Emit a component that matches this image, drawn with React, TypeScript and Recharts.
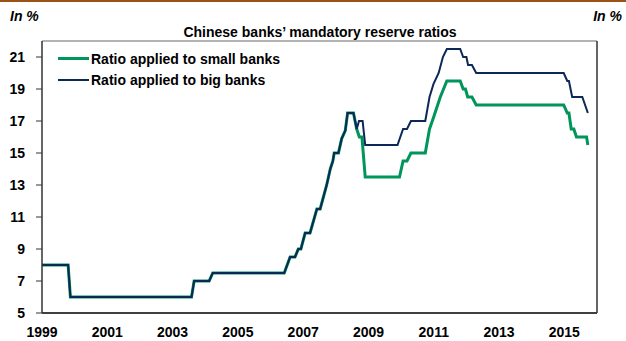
import { LineChart, Line, XAxis, YAxis, ReferenceLine } from "recharts";

// vertices shared by both ratios until the split in autumn 2008
const commonYears = [
  1999.0, 1999.8, 1999.87, 2003.58, 2003.66, 2004.12, 2004.23, 2006.42, 2006.6,
  2006.75, 2006.85, 2006.93, 2007.06, 2007.21, 2007.42, 2007.52, 2007.72, 2007.83,
  2007.91, 2007.95, 2008.08, 2008.18, 2008.29, 2008.36, 2008.54,
];
const commonRatios = [
  8, 8, 6, 6, 7, 7, 7.5, 7.5, 8.5, 8.5, 9, 9, 10, 10, 11.5, 11.5, 13, 14, 14.5, 15,
  15, 15.9, 16.4, 17.5, 17.5,
];

const smallYears = [
  2008.64, 2008.72, 2008.8, 2008.9, 2009.95, 2010.06, 2010.18, 2010.3, 2010.74,
  2010.87, 2010.99, 2011.2, 2011.4, 2011.81, 2011.9, 2011.97, 2012.04, 2012.17,
  2012.3, 2014.98, 2015.09, 2015.14, 2015.21, 2015.29, 2015.37, 2015.68, 2015.72,
];
const smallRatios = [
  16.5, 16, 16, 13.5, 13.5, 14.5, 14.5, 15, 15, 16.5, 17.2, 18.5, 19.5, 19.5, 19, 19,
  18.5, 18.5, 18, 18, 17.5, 17.5, 16.5, 16.5, 16, 16, 15.5,
];

const bigYears = [
  2008.64, 2008.71, 2008.82, 2008.9, 2009.89, 2010.06, 2010.18, 2010.3, 2010.74,
  2010.87, 2010.99, 2011.15, 2011.28, 2011.4, 2011.81, 2011.9, 2012.0, 2012.05,
  2012.17, 2012.3, 2014.98, 2015.09, 2015.14, 2015.24, 2015.55, 2015.72,
];
const bigRatios = [
  16.5, 17, 17, 15.5, 15.5, 16.5, 16.5, 17, 17, 18.5, 19.3, 20, 21, 21.5, 21.5, 21,
  21, 20.5, 20.5, 20, 20, 19.5, 19.5, 18.5, 18.5, 17.5,
];

const yearTicks = [1999, 2001, 2003, 2005, 2007, 2009, 2011, 2013, 2015];
const ratioTicks = [5, 7, 9, 11, 13, 15, 17, 19, 21];

const GREEN = "#00955a";
const NAVY = "#0c2857";
const FONT = "'Liberation Sans', Arial, sans-serif";

const toPoints = (years: number[], ratios: number[]) =>
  years.map((year, i) => ({ year, v: ratios[i] }));

const smallData = toPoints(commonYears.concat(smallYears), commonRatios.concat(smallRatios));
const bigData = toPoints(commonYears.concat(bigYears), commonRatios.concat(bigRatios));

const tickStyle = { fill: "#000", fontSize: 14, fontWeight: 700, fontFamily: FONT };

const legendRows = [
  { label: "Ratio applied to small banks", color: GREEN, width: 3 },
  { label: "Ratio applied to big banks", color: NAVY, width: 2 },
];

export default function App() {
  return (
    <div style={{ position: "absolute", left: 0, top: 0, width: 626, height: 341, background: "#fff", fontFamily: FONT }}>
      <div style={{ position: "absolute", left: 0, top: 0, width: 626, height: 2, background: "#9a5418" }} />
      <div style={{ position: "absolute", left: 10, top: 8, fontSize: 14, fontWeight: 700, fontStyle: "italic" }}>In %</div>
      <div style={{ position: "absolute", right: 4, top: 8, fontSize: 14, fontWeight: 700, fontStyle: "italic" }}>In %</div>
      <div style={{ position: "absolute", left: 0, width: 640, top: 24, textAlign: "center", fontSize: 14, fontWeight: 700 }}>
        Chinese banks’ mandatory reserve ratios
      </div>
      <LineChart width={626} height={341} margin={{ top: 41, right: 0, bottom: 0, left: 0 }}>
        <XAxis
          dataKey="year"
          type="number"
          domain={[1999, 2016]}
          ticks={yearTicks}
          allowDuplicatedCategory={false}
          tickLine={false}
          tickSize={0}
          tickMargin={14}
          height={28}
          axisLine={{ stroke: "#000", strokeWidth: 1.5 }}
          tick={tickStyle}
        />
        <YAxis
          yAxisId="left"
          orientation="left"
          domain={[5, 22]}
          ticks={ratioTicks}
          width={42}
          tickSize={6}
          tickMargin={11}
          axisLine={{ stroke: "#333", strokeWidth: 1.5 }}
          tickLine={{ stroke: "#333" }}
          tick={tickStyle}
        />
        <YAxis
          yAxisId="right"
          orientation="right"
          domain={[5, 22]}
          ticks={ratioTicks}
          width={29}
          tickSize={5}
          tickMargin={5}
          axisLine={{ stroke: "#333", strokeWidth: 1.5 }}
          tickLine={{ stroke: "#333" }}
          tick={{ ...tickStyle, textAnchor: "start" }}
        />
        <ReferenceLine yAxisId="left" y={22} stroke="#9a9a9a" strokeWidth={1.5} />
        <Line
          yAxisId="left"
          data={smallData}
          dataKey="v"
          name="Ratio applied to small banks"
          type="linear"
          stroke={GREEN}
          strokeWidth={3}
          dot={false}
          isAnimationActive={false}
        />
        <Line
          yAxisId="left"
          data={bigData}
          dataKey="v"
          name="Ratio applied to big banks"
          type="linear"
          stroke={NAVY}
          strokeWidth={2}
          dot={false}
          isAnimationActive={false}
        />
      </LineChart>
      <div style={{ position: "absolute", left: 58, top: 48, fontSize: 14, fontWeight: 700, color: "#000" }}>
        {legendRows.map((r) => (
          <div key={r.label} style={{ display: "flex", alignItems: "center", height: 21 }}>
            <div style={{ width: 31, height: r.width, background: r.color, marginRight: 2 }} />
            <span>{r.label}</span>
          </div>
        ))}
      </div>
    </div>
  );
}
